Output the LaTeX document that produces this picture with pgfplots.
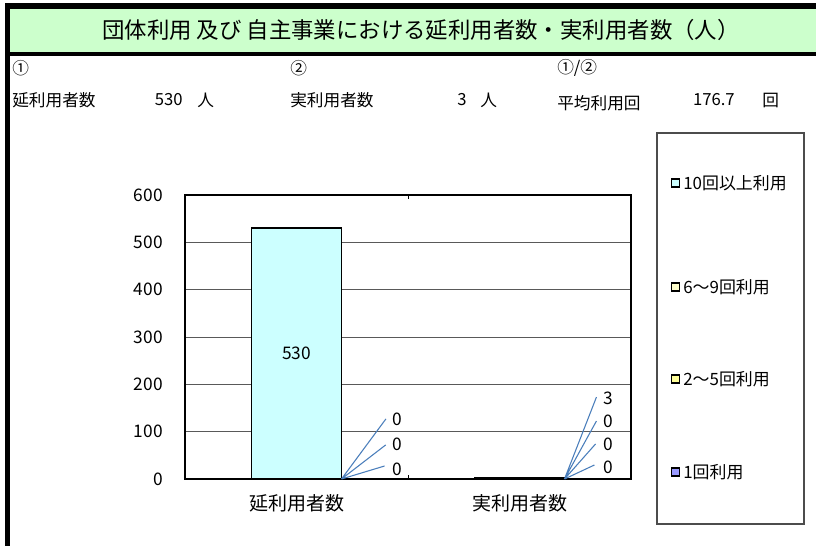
\documentclass[border=0pt]{standalone}
\usepackage{pgfplots}
\pgfplotsset{compat=1.18}
\usepackage{fontspec}
\setmainfont{Noto Sans CJK JP}
\definecolor{hdrgreen}{HTML}{CCFFCC}
\definecolor{c10}{HTML}{CCFFFF}
\definecolor{c69}{HTML}{FFFFCC}
\definecolor{c25}{HTML}{FFFF99}
\definecolor{c1}{HTML}{9999FF}
\definecolor{leader}{HTML}{4A7EBB}
\newcommand{\fs}[1]{\fontsize{#1}{#1}\selectfont}

\begin{document}
\begin{tikzpicture}[x=0.75pt,y=-0.75pt]
\path[use as bounding box, fill=white] (0,0) rectangle (816,546);
% header band
\fill[hdrgreen] (10,9) rectangle (816,52);
\fill[black] (5,3) rectangle (816,9);
\fill[black] (5,52) rectangle (816,56);
\fill[black] (5,3) rectangle (10,546);
\node[font=\fs{16.8pt}] at (421,30) {団体利用 及び 自主事業における延利用者数・実利用者数（人）};
% summary line
\begin{scope}[every node/.style={font=\fs{12.5pt}, inner sep=0pt}]
\node[anchor=west] at (12,68) {①};
\node[anchor=west] at (12,100) {延利用者数};
\node[anchor=east] at (183,100) {530};
\node[anchor=west] at (197,100) {人};
\node[anchor=west] at (290,68) {②};
\node[anchor=west] at (290,100) {実利用者数};
\node[anchor=east] at (467,100) {3};
\node[anchor=west] at (480,100) {人};
\node[anchor=west] at (557,68) {①/②};
\node[anchor=west] at (557,103) {平均利用回};
\node[anchor=east] at (735,100) {176.7};
\node[anchor=west] at (762,100) {回};
\end{scope}

\begin{axis}[
  at={(138.75pt,-359.25pt)}, anchor=south west,
  scale only axis, width=334.5pt, height=213pt,
  ybar stacked, bar width=67.5pt,
  xmin=-0.5, xmax=1.5, ymin=0, ymax=600,
  xtick={0,1}, xticklabels={延利用者数,実利用者数},
  ytick={0,100,...,600},
  major tick length=0pt,
  extra x ticks={0.5}, extra x tick labels={},
  extra x tick style={major tick length=3pt, tick align=inside, tick style={black, line width=0.6pt}},
  ymajorgrids, grid style={black!65, line width=0.6pt},
  axis line style={black, line width=1.2pt},
  /pgf/number format/assume math mode=true,
  xticklabel style={font=\fs{14.25pt}, inner sep=0pt, anchor=center, yshift=-18pt},
  yticklabel style={font=\fs{13pt}, inner sep=0pt, anchor=east, xshift=-16.5pt},
  clip=false,
  every axis plot/.append style={draw=black, line width=1.1pt},
]
\addplot[fill=c1] coordinates {(0,0) (1,0)};
\addplot[fill=c25] coordinates {(0,0) (1,0)};
\addplot[fill=c69] coordinates {(0,0) (1,0)};
\addplot[fill=c10] coordinates {(0,530) (1,3)};

% data label anchors
\coordinate (l530) at (axis cs:0,266);
\coordinate (b1) at (axis cs:0.2018,0);
\coordinate (b1a) at (axis cs:0.401,127);
\coordinate (b1b) at (axis cs:0.400,72);
\coordinate (b1c) at (axis cs:0.395,27.5);
\coordinate (t1a) at (axis cs:0.451,127);
\coordinate (t1b) at (axis cs:0.451,74);
\coordinate (t1c) at (axis cs:0.451,21);
\coordinate (b2) at (axis cs:1.2018,0);
\coordinate (b2a) at (axis cs:1.345,173);
\coordinate (b2b) at (axis cs:1.345,122.5);
\coordinate (b2c) at (axis cs:1.341,74);
\coordinate (b2d) at (axis cs:1.336,29.6);
\coordinate (t2a) at (axis cs:1.397,171);
\coordinate (t2b) at (axis cs:1.397,122.5);
\coordinate (t2c) at (axis cs:1.397,74);
\coordinate (t2d) at (axis cs:1.397,25);
\end{axis}

% data labels
\begin{scope}[every node/.style={font=\fs{13pt}}]
\node at (l530) {530};
\draw[leader, line width=0.8pt] (b1) -- (b1a) (b1) -- (b1b) (b1) -- (b1c);
\node at (t1a) {0};
\node at (t1b) {0};
\node at (t1c) {0};
\draw[leader, line width=0.8pt] (b2) -- (b2a) (b2) -- (b2b) (b2) -- (b2c) (b2) -- (b2d);
\node at (t2a) {3};
\node at (t2b) {0};
\node at (t2c) {0};
\node at (t2d) {0};
\end{scope}

% legend
\draw[black!70, line width=0.8pt] (657,133) rectangle (804,524);
\begin{scope}[every node/.style={font=\fs{12.7pt}, inner sep=0pt, anchor=west}]
\draw[fill=c10, line width=1.3pt] (671.5,179) rectangle (679.5,187);
\node at (683,183) {10回以上利用};
\draw[fill=c69, line width=1.3pt] (671.5,283) rectangle (679.5,291);
\node at (683,287) {6～9回利用};
\draw[fill=c25, line width=1.3pt] (671.5,375) rectangle (679.5,383);
\node at (683,379) {2～5回利用};
\draw[fill=c1, line width=1.3pt] (671.5,468) rectangle (679.5,476);
\node at (683,472) {1回利用};
\end{scope}
\end{tikzpicture}
\end{document}
